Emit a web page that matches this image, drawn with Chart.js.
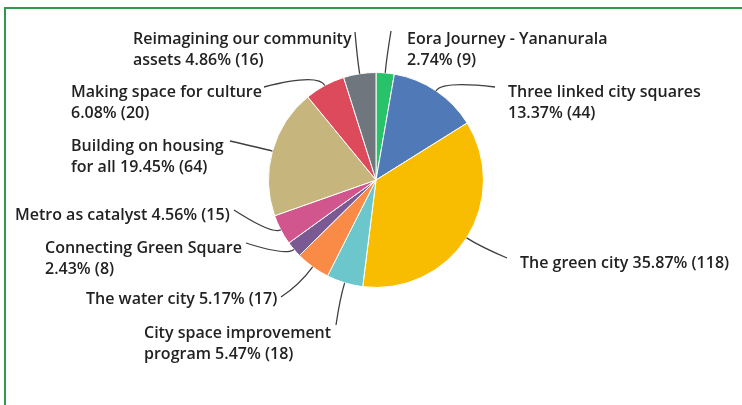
<!DOCTYPE html>
<html>
<head>
<meta charset="utf-8">
<script src="https://cdn.jsdelivr.net/npm/chart.js@4/dist/chart.umd.min.js"></script>
<style>
  html, body { margin: 0; padding: 0; background: #fff; }
  #wrap { position: relative; width: 742px; height: 405px; overflow: hidden; }
  #frame {
    position: absolute; left: 4px; top: 7px; right: -10px; bottom: -10px;
    border-top: 2px solid #2f9a4b; border-left: 2px solid #2f9a4b;
  }
  #chart-pie { position: absolute; left: 0; top: 0; }
</style>
</head>
<body>
<div id="wrap">
  <div id="frame"></div>
  <canvas id="chart-pie" width="742" height="405"></canvas>
</div>
<script>
/*  ---- DATA ---- */
const categories = [
  "Eora Journey - Yananurala",
  "Three linked city squares",
  "The green city",
  "City space improvement program",
  "The water city",
  "Connecting Green Square",
  "Metro as catalyst",
  "Building on housing for all",
  "Making space for culture",
  "Reimagining our community assets",
];
const responses = [9, 44, 118, 18, 17, 8, 15, 64, 20, 16];
const colors = [
  "#28c26b", "#4f7ab7", "#f8bd00", "#6cc7cd", "#f98b47",
  "#7b5993", "#d2568e", "#c6b57c", "#dd4a5b", "#6f767e",
];

// label placement, offsets from the pie centre
// tx,ty  = left of text / middle of first line
// ex,ey  = where the leader line ends
// words  = words on the first line (0 = single line)
// bend   = length of the radial part of the leader
const labelLayout = [
  { tx: 31, ty: -141, ex: 15, ey: -149, words: 4, bend: 14 },
  { tx: 132, ty: -88, ex: 119, ey: -93, words: 4, bend: 12 },
  { tx: 144, ty: 83, ex: 131, ey: 78, words: 0, bend: 16 },
  { tx: -232, ty: 153, ex: -40, ey: 145, words: 3, bend: 16 },
  { tx: -290, ty: 119, ex: -95, ey: 117, words: 0, bend: 22 },
  { tx: -331, ty: 68, ex: -130, ey: 63, words: 3, bend: 10 },
  { tx: -361, ty: 35, ex: -142, ey: 30, words: 0, bend: 10 },
  { tx: -305, ty: -34, ex: -146, ey: -39, words: 3, bend: 10 },
  { tx: -305, ty: -88, ex: -112, ey: -93, words: 4, bend: 14 },
  { tx: -243, ty: -141, ex: -21, ey: -148, words: 3, bend: 16 },
];

const total = responses.reduce((a, b) => a + b, 0);

function labelLines(i) {
  const pct = ((responses[i] / total) * 100).toFixed(2);
  const words = `${categories[i]} ${pct}% (${responses[i]})`.split(" ");
  const n = labelLayout[i].words;
  if (!n) return [words.join(" ")];
  return [words.slice(0, n).join(" "), words.slice(n).join(" ")];
}

// draws the callout text and the thin leader lines
const calloutPlugin = {
  id: "callouts",
  afterDatasetsDraw(chart) {
    const { ctx } = chart;
    const arcs = chart.getDatasetMeta(0).data;
    ctx.save();
    ctx.font = "600 16px 'Open Sans'";
    ctx.textBaseline = "middle";
    ctx.textAlign = "left";
    arcs.forEach((arc, i) => {
      const lay = labelLayout[i];
      const cx = arc.x, cy = arc.y;
      const mid = (arc.startAngle + arc.endAngle) / 2;
      const dx = Math.cos(mid), dy = Math.sin(mid);
      const sx = cx + dx * arc.outerRadius;
      const sy = cy + dy * arc.outerRadius;
      const kx = sx + dx * lay.bend;
      const ky = sy + dy * lay.bend;

      ctx.beginPath();
      ctx.moveTo(sx, sy);
      ctx.quadraticCurveTo(kx, ky, cx + lay.ex, cy + lay.ey);
      ctx.strokeStyle = "#3f3f3f";
      ctx.lineWidth = 1.3;
      ctx.stroke();

      ctx.fillStyle = "#222222";
      labelLines(i).forEach((line, k) => {
        ctx.fillText(line, cx + lay.tx, cy + lay.ty + k * 21.5);
      });
    });
    ctx.restore();
  },
};

const ctx = document.getElementById("chart-pie").getContext("2d");

new Chart(ctx, {
  type: "pie",
  data: {
    labels: categories,
    datasets: [
      {
        data: responses,
        backgroundColor: colors,
        borderColor: "#ffffff",
        borderWidth: 1,
        hoverOffset: 0,
      },
    ],
  },
  options: {
    responsive: false,
    animation: false,
    events: [],
    plugins: {
      legend: { display: false },
      tooltip: { enabled: false },
    },
    // puts the pie centre at 376,180 with r≈107
    layout: {
      padding: { top: 72, bottom: 117, left: 268, right: 258 },
    },
  },
  plugins: [calloutPlugin],
});
</script>
</body>
</html>
